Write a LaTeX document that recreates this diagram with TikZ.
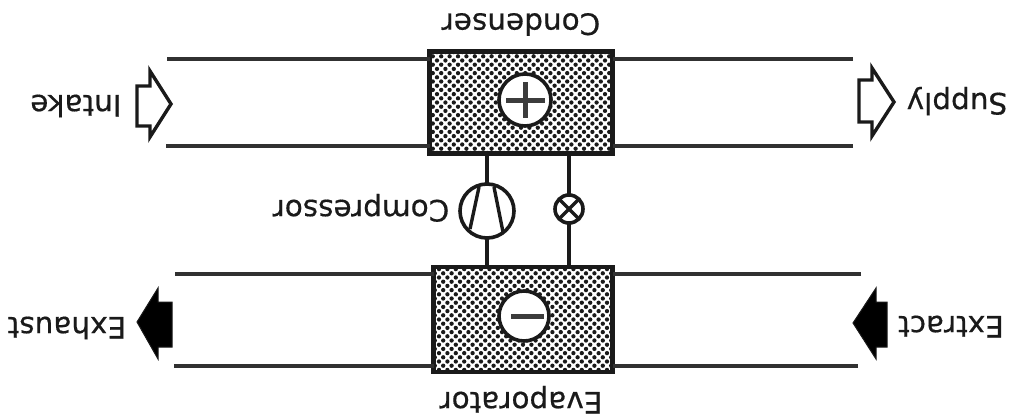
\documentclass[tikz,border=0pt]{standalone}
\usepackage{fontspec}
\setmainfont[FakeBold=0.5]{DejaVu Sans}
\definecolor{ink}{HTML}{1A1A1A}
\tikzset{
  px/.style={x=1pt,y=-1pt},
  duct/.style={draw=ink!90!white,line width=3.6pt},
  pipe/.style={draw=ink,line width=4pt},
  device/.style={circle,draw=ink,line width=3.6pt,fill=white,inner sep=0pt,outer sep=0pt},
  stroke/.style={draw=ink,line width=3.4pt},
  heavy/.style={draw=ink!85!white,line width=5pt},
  hx/.style={rectangle,draw=ink,line width=4.4pt,fill=white,inner sep=0pt,outer sep=0pt,
    path picture={
      \foreach \i in {-15,...,15}{
        \foreach \j in {-15,...,15}{
          \pgfmathsetmacro{\px}{8.4*\i+4.2*mod(abs(\j),2)}
          \pgfmathsetmacro{\py}{4.2*\j}
          \fill[ink] (\px,\py) circle[radius=2.15];
        }
      }
    }},
  label/.style={rotate=180,anchor=base,inner sep=0pt,font=\fontsize{29.5}{32}\selectfont,text=ink},
  openarrow/.style={draw=ink,line width=3.4pt,fill=white,line join=miter},
  darkarrow/.style={draw=ink,line width=1pt,fill=black,line join=miter}
}
\begin{document}
\begin{tikzpicture}[px]
\useasboundingbox (0,0) rectangle (1012,418);
% heat exchangers
\node[hx,minimum width=183pt,minimum height=102pt] (cond) at (521,102.5) {};
\node[hx,minimum width=179pt,minimum height=105pt] (evap) at (523,319.5) {};
% duct ends
\coordinate (a1) at (167,59);
\coordinate (a2) at (166,146);
\coordinate (b1) at (853,59);
\coordinate (b2) at (853,146);
\coordinate (c1) at (175,274);
\coordinate (c2) at (174,366);
\coordinate (d1) at (861,274);
\coordinate (d2) at (858,366);
\draw[duct] (a1) -- (a1 -| cond.west);
\draw[duct] (a2) -- (a2 -| cond.west);
\draw[duct] (b1) -- (b1 -| cond.east);
\draw[duct] (b2) -- (b2 -| cond.east);
\draw[duct] (c1) -- (c1 -| evap.west);
\draw[duct] (c2) -- (c2 -| evap.west);
\draw[duct] (d1) -- (d1 -| evap.east);
\draw[duct] (d2) -- (d2 -| evap.east);
% plus and minus
\node[device,minimum size=52pt] (plus) at (525,100) {};
\draw[heavy] (506,100) -- (545,100);
\draw[heavy] (525,82) -- (525,118);
\node[device,minimum size=50pt] (minus) at (524,316) {};
\draw[heavy] (511,316) -- (544,316);
% compressor and valve
\node[device,minimum size=54pt] (comp) at (487,211) {};
\node[device,minimum size=28pt] (valve) at (569,209) {};
\draw[pipe] (comp.north) -- (comp.north |- cond.south);
\draw[pipe] (comp.south) -- (comp.south |- evap.north);
\draw[pipe] (valve.north) -- (valve.north |- cond.south);
\draw[pipe] (valve.south) -- (valve.south |- evap.north);
\draw[stroke] (479,187) -- (470,229);
\draw[stroke] (494,187) -- (503,232);
\draw[stroke] (valve.north west) -- (valve.south east);
\draw[stroke] (valve.north east) -- (valve.south west);
% flow arrows
\draw[openarrow] (137,86) -- (150,86) -- (150,71) -- (171,104) -- (150,137) -- (150,126) -- (137,126) -- cycle;
\draw[openarrow] (859,80) -- (872,80) -- (872,68) -- (894,102) -- (872,136) -- (872,122) -- (859,122) -- cycle;
\draw[darkarrow] (853,323) -- (876,288) -- (876,302) -- (887,302) -- (887,347) -- (876,347) -- (876,359) -- cycle;
\draw[darkarrow] (137,322) -- (158,288) -- (158,302) -- (172,302) -- (172,347) -- (158,347) -- (158,359) -- cycle;
% labels
\node[label] (lcond) at (521,13.5) {Condenser};
\node[label] (levap) at (521,392) {Evaporator};
\node[label] (lcomp) at (361,200) {Compressor};
\node[label] (lint) at (76,95) {Intake};
\node[label] (lsup) at (957,93) {Supply};
\node[label] (lext) at (951,316) {Extract};
\node[label] (lexh) at (67,317) {Exhaust};
\end{tikzpicture}
\end{document}
